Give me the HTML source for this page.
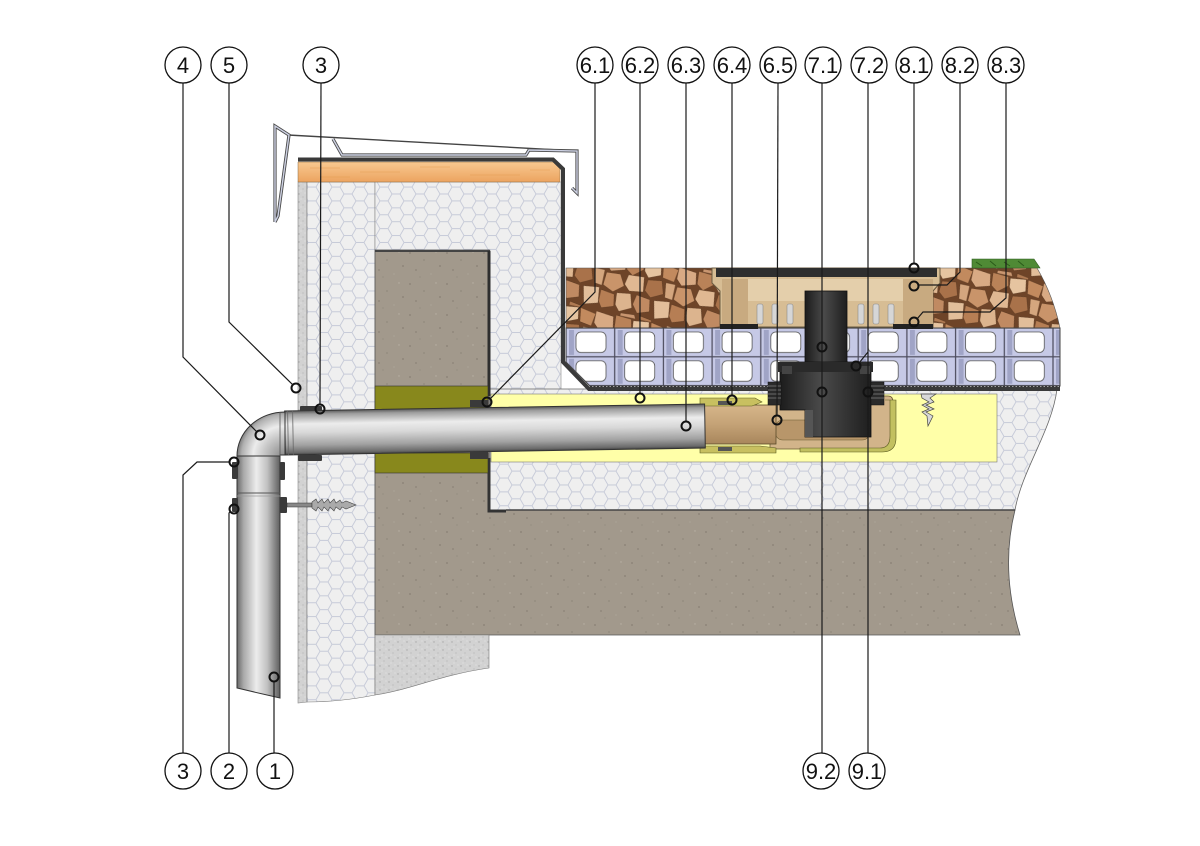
<!DOCTYPE html>
<html><head><meta charset="utf-8"><style>
html,body{margin:0;padding:0;background:#fff;}
svg{display:block}
text{font-family:"Liberation Sans",Arial,sans-serif;}
</style></head><body>
<svg width="1200" height="846" viewBox="0 0 1200 846" xmlns="http://www.w3.org/2000/svg">
<defs>
 <pattern id="hex" patternUnits="userSpaceOnUse" width="24" height="13.856">
  <rect width="24" height="13.856" fill="#efefef"/>
  <path d="M0,6.928H4L8,0H16L20,6.928H24M4,6.928L8,13.856H16L20,6.928" fill="none" stroke="#c6cad8" stroke-width="0.9"/>
 </pattern>
 <pattern id="conc" patternUnits="userSpaceOnUse" width="37" height="31">
  <rect width="37" height="31" fill="#a2998c"/>
  <circle cx="3" cy="5" r="0.6" fill="#6f675d"/>
  <circle cx="17" cy="12" r="0.5" fill="#6f675d"/>
  <circle cx="29" cy="4" r="0.7" fill="#b9b1a5"/>
  <circle cx="9" cy="22" r="0.6" fill="#756d62"/>
  <circle cx="24" cy="26" r="0.5" fill="#b9b1a5"/>
  <circle cx="33" cy="18" r="0.6" fill="#6f675d"/>
  <circle cx="13" cy="29" r="0.4" fill="#6f675d"/>
 </pattern>
 <pattern id="plast" patternUnits="userSpaceOnUse" width="9" height="8">
  <rect width="9" height="8" fill="#d2d2d2"/>
  <circle cx="2" cy="2" r="0.7" fill="#a8a8a8"/>
  <circle cx="6" cy="5" r="0.6" fill="#b4b4b4"/>
  <circle cx="4" cy="7" r="0.5" fill="#ececec"/>
  <circle cx="8" cy="1" r="0.5" fill="#ececec"/>
 </pattern>
 <pattern id="gravel" patternUnits="userSpaceOnUse" width="72" height="60" patternTransform="rotate(12)">
  <rect width="72" height="60" fill="#6e4428"/>
  <g stroke="#5a3820" stroke-width="0.5">
  <polygon points="0,0 18,2 20,14 6,18 0,12" fill="#d8aa84"/>
  <polygon points="20,0 36,1 38,10 28,18 21,13" fill="#b98258"/>
  <polygon points="38,2 54,0 56,12 44,17 39,11" fill="#e6c4a0"/>
  <polygon points="56,0 72,3 70,16 58,14" fill="#c28a5e"/>
  <polygon points="2,20 16,19 22,30 12,38 1,33" fill="#c9946a"/>
  <polygon points="24,18 40,17 42,32 28,34 22,28" fill="#e0b892"/>
  <polygon points="44,19 58,17 62,30 50,36 43,30" fill="#a9724a"/>
  <polygon points="62,18 72,18 72,34 64,33" fill="#d4a67e"/>
  <polygon points="0,38 14,40 16,52 4,56 0,50" fill="#b67e54"/>
  <polygon points="16,38 30,36 34,50 22,56 17,50" fill="#dcb48e"/>
  <polygon points="36,36 50,38 52,50 40,54 34,46" fill="#c08a62"/>
  <polygon points="54,38 70,36 72,52 58,56" fill="#e2be9a"/>
  <polygon points="24,57 38,56 40,60 24,60" fill="#c99670"/>
  <polygon points="44,56 56,58 56,60 44,60" fill="#b07a52"/>
  </g>
 </pattern>
 <pattern id="board" patternUnits="userSpaceOnUse" x="566" y="328" width="48.7" height="28.8">
  <rect width="48.7" height="28.8" fill="#c6c9e6"/>
  <rect x="3" y="2" width="5" height="25" fill="#a0a4c6"/>
  <rect x="0" y="0" width="48.7" height="28.8" fill="none" stroke="#4a4a5a" stroke-width="1.2"/>
  <rect x="10" y="4" width="30" height="20.5" rx="5" fill="#fff" stroke="#555" stroke-width="0.8"/>
 </pattern>
 <linearGradient id="wood" x1="0" y1="0" x2="0" y2="1">
  <stop offset="0" stop-color="#f8c890"/><stop offset="1" stop-color="#eca460"/>
 </linearGradient>
 <linearGradient id="hpipe" x1="0" y1="0" x2="0" y2="1">
  <stop offset="0" stop-color="#5a5a5a"/><stop offset="0.08" stop-color="#9c9c9c"/>
  <stop offset="0.3" stop-color="#ececec"/><stop offset="0.5" stop-color="#d8d8d8"/>
  <stop offset="0.78" stop-color="#a2a2a2"/><stop offset="0.95" stop-color="#6a6a6a"/>
  <stop offset="1" stop-color="#404040"/>
 </linearGradient>
 <linearGradient id="vpipe" x1="0" y1="0" x2="1" y2="0">
  <stop offset="0" stop-color="#686868"/><stop offset="0.15" stop-color="#a8a8a8"/>
  <stop offset="0.45" stop-color="#ececec"/><stop offset="0.7" stop-color="#c2c2c2"/>
  <stop offset="1" stop-color="#5e5e5e"/>
 </linearGradient>
 <radialGradient id="elb" gradientUnits="userSpaceOnUse" cx="283" cy="456" r="48">
  <stop offset="0" stop-color="#8a8a8a"/><stop offset="0.4" stop-color="#c8c8c8"/>
  <stop offset="0.62" stop-color="#ececec"/><stop offset="0.86" stop-color="#b0b0b0"/>
  <stop offset="1" stop-color="#606060"/>
 </radialGradient>
 <linearGradient id="blk" x1="0" y1="0" x2="1" y2="0">
  <stop offset="0" stop-color="#1c1c1c"/><stop offset="0.45" stop-color="#4a4a4a"/>
  <stop offset="1" stop-color="#1e1e1e"/>
 </linearGradient>
 <linearGradient id="tan" x1="0" y1="0" x2="0" y2="1">
  <stop offset="0" stop-color="#d6b68a"/><stop offset="0.5" stop-color="#c4a276"/>
  <stop offset="1" stop-color="#a8865c"/>
 </linearGradient>
</defs>

<!-- render strip -->
<path d="M298,182 H307 V702 L298,703 Z" fill="url(#plast)" stroke="#888" stroke-width="0.6"/>
<!-- EPS left -->
<path d="M307,182 H375 V695 C350,700 330,702 307,702 Z" fill="url(#hex)" stroke="#777" stroke-width="0.6"/>
<!-- EPS top + inner -->
<path d="M375,182 H561 V396 H490 V250 H375 Z" fill="url(#hex)" stroke="#888" stroke-width="0.6"/>
<!-- EPS lower -->
<path d="M490,389 H1057 C1052,430 1022,470 1015,510 H490 Z" fill="url(#hex)" stroke="#666" stroke-width="0.8"/>
<!-- concrete -->
<path d="M375,250 H489 V510 H1015 Q1000,570 1020,635 H375 Z" fill="url(#conc)" stroke="#555" stroke-width="0.8"/>
<!-- plaster under wall -->
<path d="M375,635 H489 V668 C440,675 410,690 375,695 Z" fill="url(#plast)" stroke="#777" stroke-width="0.6"/>
<!-- wall border lines -->
<path d="M375,251 H490" stroke="#444" stroke-width="2" fill="none"/>
<path d="M489,251 V396" stroke="#2e2e2e" stroke-width="3" fill="none"/>
<path d="M489,458 V511 H506" stroke="#333" stroke-width="3" fill="none"/>
<path d="M506,510 H1015" stroke="#444" stroke-width="1.5" fill="none"/>
<!-- mineral wool -->
<rect x="375" y="386" width="113" height="24" fill="#88881c" stroke="#333" stroke-width="0.6"/>
<rect x="375" y="453" width="113" height="20" fill="#88881c" stroke="#333" stroke-width="0.6"/>
<!-- yellow -->
<rect x="491" y="394" width="506" height="68" fill="#ffffa8" stroke="#777" stroke-width="0.6"/>

<!-- wood top board -->
<path d="M298,162 H553 L560,169 V182 H298 Z" fill="url(#wood)" stroke="#8a6a40" stroke-width="0.5"/>
<g stroke="#e29a50" stroke-width="0.8" opacity="0.6">
 <path d="M310,168 H340 M360,172 H400 M420,167 H450 M470,175 H520 M320,177 H350 M530,170 H550"/>
</g>
<!-- parapet membrane -->
<path d="M298,159.5 H553 L563,169 V362 L589,389 H1060" fill="none" stroke="#3a3a3a" stroke-width="4"/>
<path d="M590,386 H1060" stroke="#222" stroke-width="2" stroke-dasharray="2,1.5"/>

<!-- coping -->
<path d="M288,135 L577,151" stroke="#444" stroke-width="1.4" fill="none"/>
<g fill="none" stroke-linejoin="miter">
 <path d="M275,222 V126 L289,135 L278,216 L275,222 M333,139 L342,155 H526 L529,150 L577,151 V193 L572,188" stroke="#4a4a4a" stroke-width="3.2"/>
 <path d="M275,222 V126 L289,135 L278,216 L275,222 M333,139 L342,155 H526 L529,150 L577,151 V193 L572,188" stroke="#cdd1e3" stroke-width="1.4"/>
</g>

<!-- gravel -->
<path d="M566,268 H1037 Q1053,295 1060,328 H566 Z" fill="url(#gravel)" stroke="#555" stroke-width="0.6"/>
<!-- grass -->
<path d="M972,259 H1034 L1040,268 H972 Z" fill="#4f8a35" stroke="#2f5a20" stroke-width="0.6"/>
<path d="M976,262 L982,266 M990,261 L996,266 M1004,262 L1010,266 M1018,261 L1024,266" stroke="#2a5a1a" stroke-width="1"/>
<!-- drainage board -->
<path d="M566,328 H1060 V386 H590 L566,362 Z" fill="url(#board)" stroke="#444" stroke-width="1"/>

<!-- drain housing -->
<path d="M712,268 H940 V283 L933,291 V327 H720 V291 L712,283 Z" fill="#d7bd94" stroke="#6a5a40" stroke-width="1"/>
<rect x="722" y="279" width="26" height="48" fill="#c8aa80"/>
<rect x="903" y="279" width="30" height="48" fill="#c8aa80"/>
<rect x="748" y="279" width="155" height="22" fill="#e4cfab"/>
<rect x="716" y="268" width="221" height="9" fill="#2e2e2e"/>
<g fill="#d6d6d6" stroke="#8a8a8a" stroke-width="0.6">
 <rect x="757" y="304" width="6" height="20" rx="2"/><rect x="772" y="304" width="6" height="20" rx="2"/><rect x="787" y="304" width="6" height="20" rx="2"/>
 <rect x="858" y="304" width="6" height="20" rx="2"/><rect x="873" y="304" width="6" height="20" rx="2"/><rect x="888" y="304" width="6" height="20" rx="2"/>
</g>
<rect x="720" y="324" width="38" height="5" fill="#222"/>
<rect x="893" y="324" width="40" height="5" fill="#222"/>

<!-- tan fitting -->
<path d="M770,396 H888 Q893,396 893,402 V436 Q893,449 880,449 H770 Z" fill="#d2b48a" stroke="#6a5a30" stroke-width="0.8"/>
<path d="M885,400 H896 V438 Q896,452 882,452 H800 L800,448 H880 Q890,448 890,436 V400 Z" fill="#c2c060" stroke="#5a5a20" stroke-width="0.6"/>
<rect x="775" y="420" width="95" height="20" rx="8" fill="#b8966a" stroke="#6a5a30" stroke-width="0.6"/>
<rect x="700" y="405" width="76" height="39" fill="url(#tan)" stroke="#5a4a2a" stroke-width="0.8"/>
<path d="M700,398 H755 L762,402 L752,406 H700 Z" fill="#c8c060" stroke="#5a5a20" stroke-width="0.6"/>
<path d="M700,446 H760 L776,448 V453 H700 Z" fill="#c8c060" stroke="#5a5a20" stroke-width="0.6"/>
<rect x="718" y="401" width="14" height="4" fill="#555"/>
<rect x="718" y="447" width="14" height="4" fill="#555"/>

<!-- black drain -->
<rect x="805" y="291" width="42" height="90" fill="url(#blk)" stroke="#111" stroke-width="0.8"/>
<path d="M780,362 H871 V437 H805 V410 H780 Z" fill="url(#blk)" stroke="#111" stroke-width="0.8"/>
<rect x="805" y="410" width="8" height="27" fill="#555"/>
<rect x="778" y="362" width="95" height="10" fill="#2a2a2a"/>
<rect x="782" y="366" width="10" height="8" fill="#444"/>
<rect x="860" y="366" width="10" height="8" fill="#444"/>
<g fill="#2a2a2a" stroke="#111" stroke-width="0.5">
 <rect x="768" y="382" width="13" height="23"/>
 <rect x="871" y="382" width="13" height="23"/>
</g>
<path d="M768,386 H781 M768,390 H781 M768,394 H781 M768,398 H781 M871,386 H884 M871,390 H884 M871,394 H884 M871,398 H884" stroke="#6a6a6a" stroke-width="1"/>

<!-- screw in yellow -->
<path d="M921,394 H936 L930,398 L934,402 L926,405 L934,409 L926,412 L933,416 L928,426 L927,416 L922,412 L929,409 L922,405 L929,402 L922,398 Z" fill="#d8d8d8" stroke="#444" stroke-width="0.7"/>

<!-- horizontal pipe -->
<g transform="rotate(-0.95 285 433)">
 <rect x="285" y="411" width="420" height="44" fill="url(#hpipe)" stroke="#333" stroke-width="1"/>
 <path d="M288,411 V455 M293,411 V455" stroke="#666" stroke-width="0.8"/>
</g>
<!-- vertical pipe -->
<path d="M237,456 H280 V698 L237,688 Z" fill="url(#vpipe)" stroke="#333" stroke-width="1"/>
<path d="M237,493 H280" stroke="#555" stroke-width="1"/>
<path d="M237,496 H280" stroke="#999" stroke-width="0.7"/>
<!-- elbow -->
<path d="M237,456 A48,44 0 0 1 285,412 V455 H280 V456 Z" fill="url(#elb)" stroke="#333" stroke-width="1"/>
<path d="M280,412 V456" stroke="#555" stroke-width="0.8"/>

<!-- clamps -->
<g fill="#3a3a3a">
 <rect x="300" y="406" width="22" height="5" rx="1"/>
 <rect x="298" y="455" width="24" height="6" rx="1"/>
 <rect x="470" y="400" width="18" height="7"/>
 <rect x="470" y="452" width="18" height="7"/>
 <rect x="232" y="462" width="6" height="17" rx="1"/>
 <rect x="232" y="498" width="6" height="14" rx="1"/>
 <rect x="280" y="462" width="5" height="18" rx="1"/>
 <rect x="280" y="497" width="7" height="16" rx="1"/>
</g>
<!-- screw in wall -->
<path d="M287,503 H312 V507 H287 Z" fill="#888" stroke="#333" stroke-width="0.6"/>
<path d="M312,502 L316,499 L318,503 L322,499 L324,503 L328,499 L330,503 L334,499 L336,503 L340,500 L342,503 L346,501 L356,505 L346,509 L342,507 L340,510 L336,507 L334,511 L330,507 L328,511 L324,507 L322,511 L318,507 L316,511 L312,508 Z" fill="#aaa" stroke="#444" stroke-width="0.6"/>

<!-- leaders -->
<g fill="none" stroke="#1a1a1a" stroke-width="1.2">
 <polyline points="183,83 183,357 257,432"/>
 <polyline points="229,83 229,322 293,385"/>
 <polyline points="321,83 320,405"/>
 <polyline points="595,83 595,292 490,399"/>
 <polyline points="640,83 640,394"/>
 <polyline points="686,83 686,422"/>
 <polyline points="732,83 732,396"/>
 <polyline points="778,83 777,416"/>
 <polyline points="822,83 822,753"/>
 <polyline points="868,83 868,753"/>
 <polyline points="868,352 859,363"/>
 <polyline points="914,83 914,264"/>
 <polyline points="960,83 960,272 947,285 918,285"/>
 <polyline points="1006,83 1006,298 990,312 923,312 917,319"/>
 <polyline points="183,753 183,475 197,462 230,462"/>
 <polyline points="229,753 229,513 231,511"/>
 <polyline points="274,753 274,681"/>
</g>
<!-- markers -->
<g fill="none" stroke="#111" stroke-width="2">
 <circle cx="260" cy="435" r="4.5"/><circle cx="296" cy="388" r="4.5"/>
 <circle cx="320" cy="409" r="4.5"/><circle cx="487" cy="402" r="4.5"/>
 <circle cx="640" cy="398" r="4.5"/><circle cx="686" cy="426" r="4.5"/>
 <circle cx="732" cy="400" r="4.5"/><circle cx="777" cy="420" r="4.5"/>
 <circle cx="822" cy="347" r="4.5"/><circle cx="856" cy="366" r="4.5"/>
 <circle cx="822" cy="392" r="4.5"/><circle cx="868" cy="392" r="4.5"/>
 <circle cx="914" cy="268" r="4.5"/><circle cx="914" cy="286" r="4.5"/>
 <circle cx="914" cy="322" r="4.5"/><circle cx="234" cy="462" r="4.5"/>
 <circle cx="234" cy="509" r="4.5"/><circle cx="274" cy="677" r="4.5"/>
</g>

<!-- labels -->
<g fill="#fff" stroke="#111" stroke-width="1.3">
 <circle cx="183" cy="65" r="18"/><circle cx="229" cy="65" r="18"/><circle cx="321" cy="65" r="18"/>
 <circle cx="595" cy="65" r="18"/><circle cx="640" cy="65" r="18"/><circle cx="686" cy="65" r="18"/>
 <circle cx="732" cy="65" r="18"/><circle cx="778" cy="65" r="18"/><circle cx="823" cy="65" r="18"/>
 <circle cx="869" cy="65" r="18"/><circle cx="914" cy="65" r="18"/><circle cx="960" cy="65" r="18"/>
 <circle cx="1006" cy="65" r="18"/>
 <circle cx="183" cy="771" r="18"/><circle cx="229" cy="771" r="18"/><circle cx="275" cy="771" r="18"/>
 <circle cx="821" cy="771" r="18"/><circle cx="867" cy="771" r="18"/>
</g>
<g font-size="22" fill="#111" text-anchor="middle">
 <text x="183" y="73">4</text><text x="229" y="73">5</text><text x="321" y="73">3</text>
 <text x="595" y="73">6.1</text><text x="640" y="73">6.2</text><text x="686" y="73">6.3</text>
 <text x="732" y="73">6.4</text><text x="778" y="73">6.5</text><text x="823" y="73">7.1</text>
 <text x="869" y="73">7.2</text><text x="914" y="73">8.1</text><text x="960" y="73">8.2</text>
 <text x="1006" y="73">8.3</text>
 <text x="183" y="779">3</text><text x="229" y="779">2</text><text x="275" y="779">1</text>
 <text x="821" y="779">9.2</text><text x="867" y="779">9.1</text>
</g>
</svg>
</body></html>
